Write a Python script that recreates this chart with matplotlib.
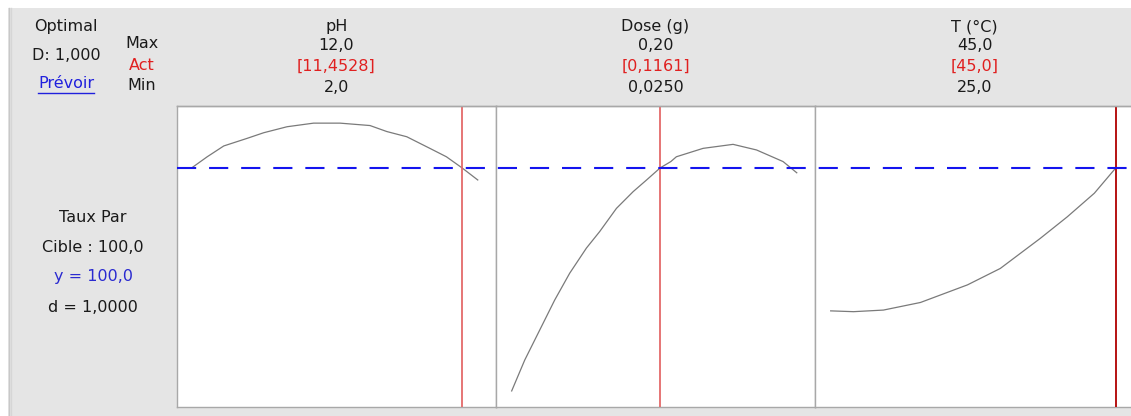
import matplotlib
matplotlib.use("Agg")
import matplotlib.pyplot as plt
from matplotlib.patches import Rectangle
from matplotlib.lines import Line2D

# ---------------- data ----------------
factors = ["pH", "Dose (g)", "T (°C)"]
max_labels = ["12,0", "0,20", "45,0"]
act_labels = ["[11,4528]", "[0,1161]", "[45,0]"]
min_labels = ["2,0", "0,0250", "25,0"]
lows = [2.0, 0.025, 25.0]
highs = [12.0, 0.20, 45.0]
acts = [11.4528, 0.1161, 45.0]

ph_x = [2.0, 2.51, 3.09, 3.91, 4.49, 5.31, 6.24, 7.17, 8.22, 8.81, 9.51, 10.32, 10.9, 11.4528, 12.0]
ph_y = [100.2, 102.8, 105.5, 107.4, 108.8, 110.3, 111.2, 111.2, 110.6, 109.1, 107.8, 104.9, 102.8, 100.0, 97.0]
dose_x = [0.025, 0.033, 0.0422, 0.0514, 0.0606, 0.0709, 0.079, 0.0893, 0.0996, 0.1078, 0.1161,
          0.1227, 0.1261, 0.1425, 0.1609, 0.1753, 0.1916, 0.20]
dose_y = [44.3, 52.0, 59.5, 67.0, 73.7, 80.0, 84.1, 89.9, 94.1, 97.0, 100.0,
          101.6, 102.8, 104.9, 105.9, 104.5, 101.6, 98.8]
temp_x = [25, 26.6, 28.7, 31.3, 34.6, 36.9, 39.7, 41.6, 43.5, 45]
temp_y = [64.3, 64.1, 64.5, 66.4, 70.8, 74.9, 82.4, 87.8, 93.7, 100.0]
target = 100.0

composite_lines = ["Optimal", "D: 1,000", "Prévoir"]
row_labels = ["Max", "Act", "Min"]
response_lines = ["Taux Par", "Cible : 100,0", "y = 100,0", "d = 1,0000"]

curves_x = [ph_x, dose_x, temp_x]
curves_y = [ph_y, dose_y, temp_y]
act_colors = ["#e46a6a", "#e46a6a", "#b00000"]

# ---------------- layout ----------------
W, H = 1131, 416
plt.rcParams["font.family"] = ["DejaVu Sans"]
FS = 11.5

def fx(x):
    return x / W

def fy(y):
    return 1 - y / H

fig = plt.figure(figsize=(W / 100, H / 100), dpi=100, facecolor="white")

# gray panel background
bg = Rectangle((fx(8), 0), 1 - fx(8), fy(8), transform=fig.transFigure,
               facecolor="#e5e5e5", edgecolor="none", zorder=-10)
fig.patches.append(bg)
fig.add_artist(Line2D([fx(8.5), fx(8.5)], [0, fy(8)], color="#c8c8c8", lw=1, zorder=-5))
fig.add_artist(Line2D([fx(10.5), fx(10.5)], [0, fy(8)], color="#d6d6d6", lw=1, zorder=-5))

top_px, bot_px = 106, 407
panel_edges = [177, 496, 815, 1134]

all_y = ph_y + dose_y + temp_y
ymin, ymax = min(all_y), max(all_y)
yr = ymax - ymin
ylim = (ymin - 0.06 * yr, ymax + 0.064 * yr)

for i in range(3):
    x0, x1 = panel_edges[i], panel_edges[i + 1]
    ax = fig.add_axes([fx(x0), fy(bot_px), (x1 - x0) / W, (bot_px - top_px) / H])
    ax.set_zorder(1)
    ax.set_facecolor("white")
    lo, hi = lows[i], highs[i]
    r = hi - lo
    ax.set_xlim(lo - 0.055 * r, hi + 0.064 * r)
    ax.set_ylim(*ylim)
    ax.plot(curves_x[i], curves_y[i], color="#7a7a7a", lw=0.9, zorder=2)
    ax.axvline(acts[i], color=act_colors[i], lw=1.3, zorder=3)
    ax.set_xticks([])
    ax.set_yticks([])
    for s in ax.spines.values():
        s.set_color("#a8a8a8")
        s.set_linewidth(1.0)
    cx = (x0 + x1) / 2
    fig.text(fx(cx), fy(27), factors[i], ha="center", va="center", fontsize=FS, color="#1a1a1a")
    fig.text(fx(cx), fy(45), max_labels[i], ha="center", va="center", fontsize=FS, color="#1a1a1a")
    fig.text(fx(cx), fy(66), act_labels[i], ha="center", va="center", fontsize=FS, color="#e02020")
    fig.text(fx(cx), fy(87), min_labels[i], ha="center", va="center", fontsize=FS, color="#1a1a1a")

# continuous line along the top edge beyond the last panel
fig.add_artist(Line2D([fx(177), 1], [fy(top_px), fy(top_px)], color="#a8a8a8", lw=1, zorder=4))

# overlay for the continuous target dashed line
ov = fig.add_axes([fx(177), fy(bot_px), (1134 - 177) / W, (bot_px - top_px) / H])
ov.set_zorder(5)
ov.set_xlim(0, 1)
ov.set_ylim(*ylim)
ov.axis("off")
ov.patch.set_alpha(0)
ov.axhline(target, color="#1414ee", lw=1.5, linestyle=(0, (9.2, 6.2)), zorder=5)

# composite desirability block
fig.text(fx(66), fy(27), composite_lines[0], ha="center", va="center", fontsize=FS, color="#1a1a1a")
fig.text(fx(66), fy(55), composite_lines[1], ha="center", va="center", fontsize=FS, color="#1a1a1a")
t_prev = fig.text(fx(66), fy(83), composite_lines[2], ha="center", va="center", fontsize=FS, color="#2020dd")

for lab, yy, col in zip(row_labels, [44, 65, 86], ["#1a1a1a", "#e02020", "#1a1a1a"]):
    fig.text(fx(142), fy(yy), lab, ha="center", va="center", fontsize=FS, color=col)

# response block
resp_cols = ["#1a1a1a", "#1a1a1a", "#2a2ad0", "#1a1a1a"]
for lab, yy, col in zip(response_lines, [217, 247, 277, 307], resp_cols):
    fig.text(fx(93), fy(yy), lab, ha="center", va="center", fontsize=FS, color=col)

# underline "Prévoir"
fig.canvas.draw()
bb = t_prev.get_window_extent()
fig.add_artist(Line2D([bb.x0 / W, bb.x1 / W], [fy(93), fy(93)], color="#2020dd", lw=1))

fig.savefig("out.png", dpi=100, facecolor="white")
